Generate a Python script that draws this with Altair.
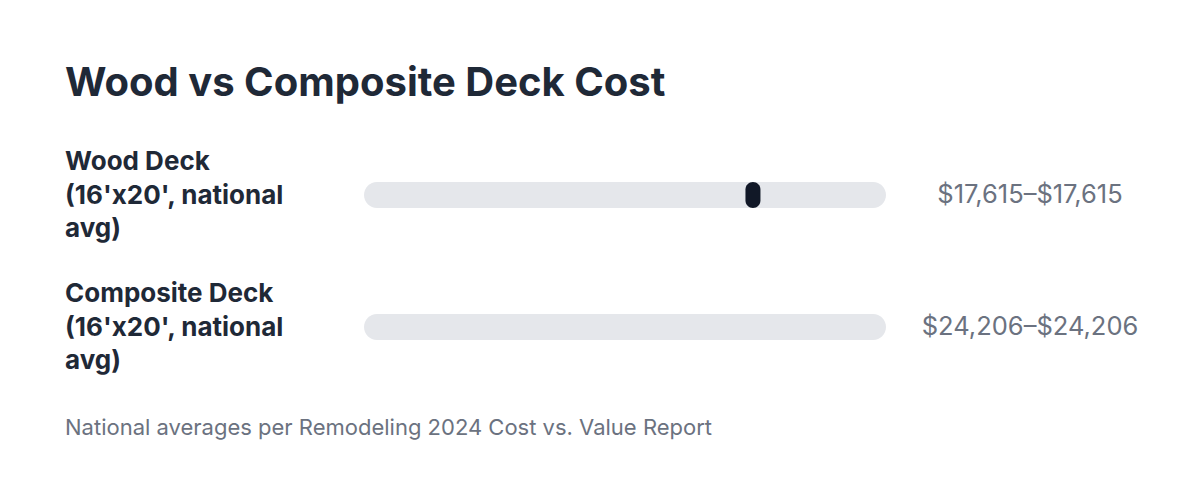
import altair as alt
import pandas as pd

# ---- data ----
categories = ["Wood Deck (16'x20', national avg)", "Composite Deck (16'x20', national avg)"]
row_labels = ["Wood Deck\n(16'x20', national\navg)", "Composite Deck\n(16'x20', national\navg)"]
low_cost = [17615, 24206]
high_cost = [17615, 24206]
value_labels = ["$17,615–$17,615", "$24,206–$24,206"]
scale_min = 0
scale_max = 23640
title_text = "Wood vs Composite Deck Cost"
footnote_text = "National averages per Remodeling 2024 Cost vs. Value Report"

df = pd.DataFrame({
    "row": categories,
    "label": row_labels,
    "low": low_cost,
    "high": high_cost,
    "value_label": value_labels,
    "track_lo": [scale_min] * len(categories),
    "track_hi": [scale_max] * len(categories),
})

FONT = "Inter"
DARK = "#1f2937"
GRAY = "#6b7280"

x_scale = alt.Scale(domain=[scale_min, scale_max], range=[356, 878])
y_enc = alt.Y("row:N", scale=alt.Scale(type="point", domain=categories, range=[187, 319], padding=0), axis=None)

base = alt.Chart(df)

track = base.mark_bar(size=26, cornerRadius=13, color="#e5e7eb").encode(
    x=alt.X("track_lo:Q", scale=x_scale, axis=None),
    x2="track_hi:Q",
    y=y_enc,
)

marker = base.transform_filter(
    f"datum.low <= {scale_max}"
).mark_tick(orient="vertical", thickness=15, size=26, cornerRadius=7.5, color="#111827", opacity=1).encode(
    x=alt.X("low:Q", scale=x_scale, axis=None),
    y=y_enc,
)

labels = base.mark_text(
    align="left", baseline="alphabetic", font=FONT, fontSize=26, fontWeight="bold",
    color=DARK, lineBreak="\n", lineHeight=33.5, dy=-25,
).encode(
    x=alt.value(57),
    y=y_enc,
    text="label:N",
)

values = base.mark_text(
    align="center", baseline="alphabetic", font=FONT, fontSize=25.5, color=GRAY, dy=8,
).encode(
    x=alt.value(1022),
    y=y_enc,
    text="value_label:N",
)

title = alt.Chart(pd.DataFrame({"t": [title_text]})).mark_text(
    align="left", baseline="alphabetic", font=FONT, fontSize=40, fontWeight="bold", color=DARK,
).encode(x=alt.value(57), y=alt.value(88), text="t:N")

footnote = alt.Chart(pd.DataFrame({"t": [footnote_text]})).mark_text(
    align="left", baseline="alphabetic", font=FONT, fontSize=22, color=GRAY,
).encode(x=alt.value(57), y=alt.value(427), text="t:N")

chart = alt.layer(track, marker, labels, values, title, footnote).properties(
    width=1184, height=483, autosize=alt.AutoSizeParams(type="none"), padding=0, background="white",
).configure_view(stroke=None)

chart.save("out.html", embed_options={"renderer": "svg", "actions": False})
